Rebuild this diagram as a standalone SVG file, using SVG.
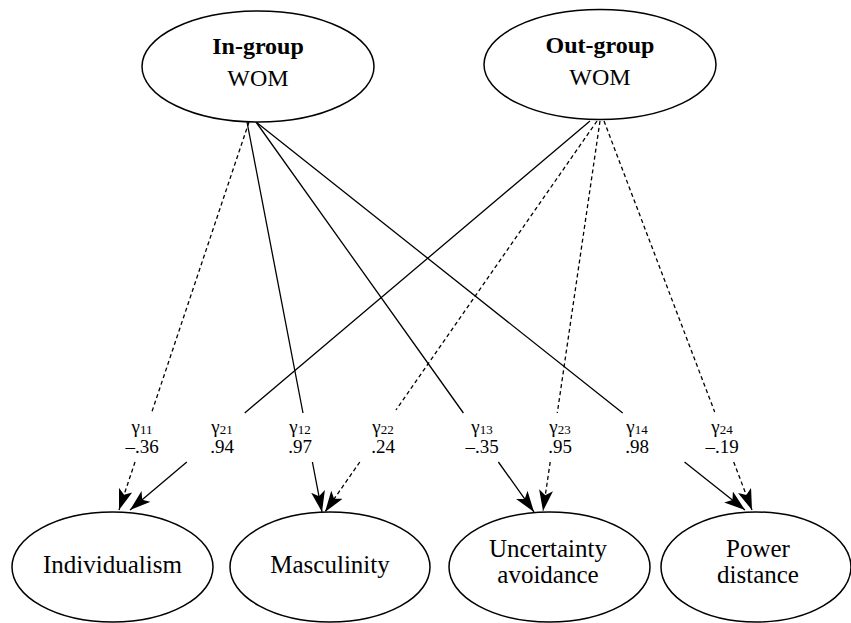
<svg xmlns="http://www.w3.org/2000/svg" width="851" height="623" viewBox="0 0 851 623">
<style>
  .node ellipse { fill: #fff; stroke: #000; stroke-width: 1.5; }
  .edge { fill: none; stroke: #000; stroke-width: 1.3; marker-end: url(#arr); }
  .dash { stroke-dasharray: 4 3; }
</style>
<defs>
  <marker id="arr" markerUnits="userSpaceOnUse" markerWidth="22" markerHeight="14" viewBox="0 0 22 14" refX="21" refY="7" orient="auto">
    <path d="M0,0 L21,7 L0,14 L5,7 Z" fill="#000" stroke="none"/>
  </marker>
</defs>
<rect width="851" height="623" fill="#fff"/>

<g id="connectors">
  <path id="g11" class="edge dash" d="M249,122 L151.5,413 M135,462 L119,510"/>
  <path id="g21" class="edge" d="M590,121 L244.7,413 M186.8,462 L130,510"/>
  <path id="g12" class="edge" d="M247,122 L303,413 M312.4,462 L322,512"/>
  <path id="g22" class="edge dash" d="M597,121 L396,410 M359.8,462 L325,512"/>
  <path id="g13" class="edge" d="M256,122 L463.4,413 M498.4,462 L534,512"/>
  <path id="g23" class="edge dash" d="M600,121 L557.3,413 M550.2,462 L543,511"/>
  <path id="g14" class="edge" d="M256,122 L622.7,413 M684.5,462 L745,510"/>
  <path id="g24" class="edge dash" d="M604,121 L714.7,412 M733.7,462 L752,510"/>
</g>

<g id="labels" font-family="Liberation Serif, Times New Roman, DejaVu Serif" font-size="19" text-anchor="middle" fill="#000">
  <text x="142" y="433">γ<tspan font-size="13" dy="1">11</tspan></text>
  <text x="142" y="453">–.36</text>
  <text x="222" y="433">γ<tspan font-size="13" dy="1">21</tspan></text>
  <text x="222" y="453">.94</text>
  <text x="300" y="433">γ<tspan font-size="13" dy="1">12</tspan></text>
  <text x="300" y="453">.97</text>
  <text x="383" y="433">γ<tspan font-size="13" dy="1">22</tspan></text>
  <text x="383" y="453">.24</text>
  <text x="482" y="433">γ<tspan font-size="13" dy="1">13</tspan></text>
  <text x="482" y="453">–.35</text>
  <text x="560" y="433">γ<tspan font-size="13" dy="1">23</tspan></text>
  <text x="560" y="453">.95</text>
  <text x="637" y="433">γ<tspan font-size="13" dy="1">14</tspan></text>
  <text x="637" y="453">.98</text>
  <text x="722" y="433">γ<tspan font-size="13" dy="1">24</tspan></text>
  <text x="722" y="453">–.19</text>
</g>

<g id="ingroup" class="node" font-family="Liberation Serif, Times New Roman, DejaVu Serif" font-size="24" text-anchor="middle" fill="#000">
  <ellipse cx="258" cy="66.5" rx="116" ry="55.5"/>
  <text x="258" y="54" font-weight="bold">In-group</text>
  <text x="258" y="86">WOM</text>
</g>
<g id="outgroup" class="node" font-family="Liberation Serif, Times New Roman, DejaVu Serif" font-size="24" text-anchor="middle" fill="#000">
  <ellipse cx="600" cy="64.5" rx="116" ry="55"/>
  <text x="600" y="53" font-weight="bold">Out-group</text>
  <text x="600" y="85">WOM</text>
</g>

<g id="individualism" class="node" font-family="Liberation Serif, Times New Roman, DejaVu Serif" font-size="25" text-anchor="middle" fill="#000">
  <ellipse cx="112.5" cy="567" rx="100.5" ry="55"/>
  <text x="112.5" y="573">Individualism</text>
</g>
<g id="masculinity" class="node" font-family="Liberation Serif, Times New Roman, DejaVu Serif" font-size="25" text-anchor="middle" fill="#000">
  <ellipse cx="330" cy="567" rx="100" ry="55"/>
  <text x="330" y="573">Masculinity</text>
</g>
<g id="uncertainty" class="node" font-family="Liberation Serif, Times New Roman, DejaVu Serif" font-size="25" text-anchor="middle" fill="#000">
  <ellipse cx="549.5" cy="567" rx="100.5" ry="55"/>
  <text x="548" y="557">Uncertainty</text>
  <text x="548" y="583">avoidance</text>
</g>
<g id="power" class="node" font-family="Liberation Serif, Times New Roman, DejaVu Serif" font-size="25" text-anchor="middle" fill="#000">
  <ellipse cx="756" cy="567" rx="95" ry="55"/>
  <text x="758" y="557">Power</text>
  <text x="758" y="583">distance</text>
</g>
</svg>
